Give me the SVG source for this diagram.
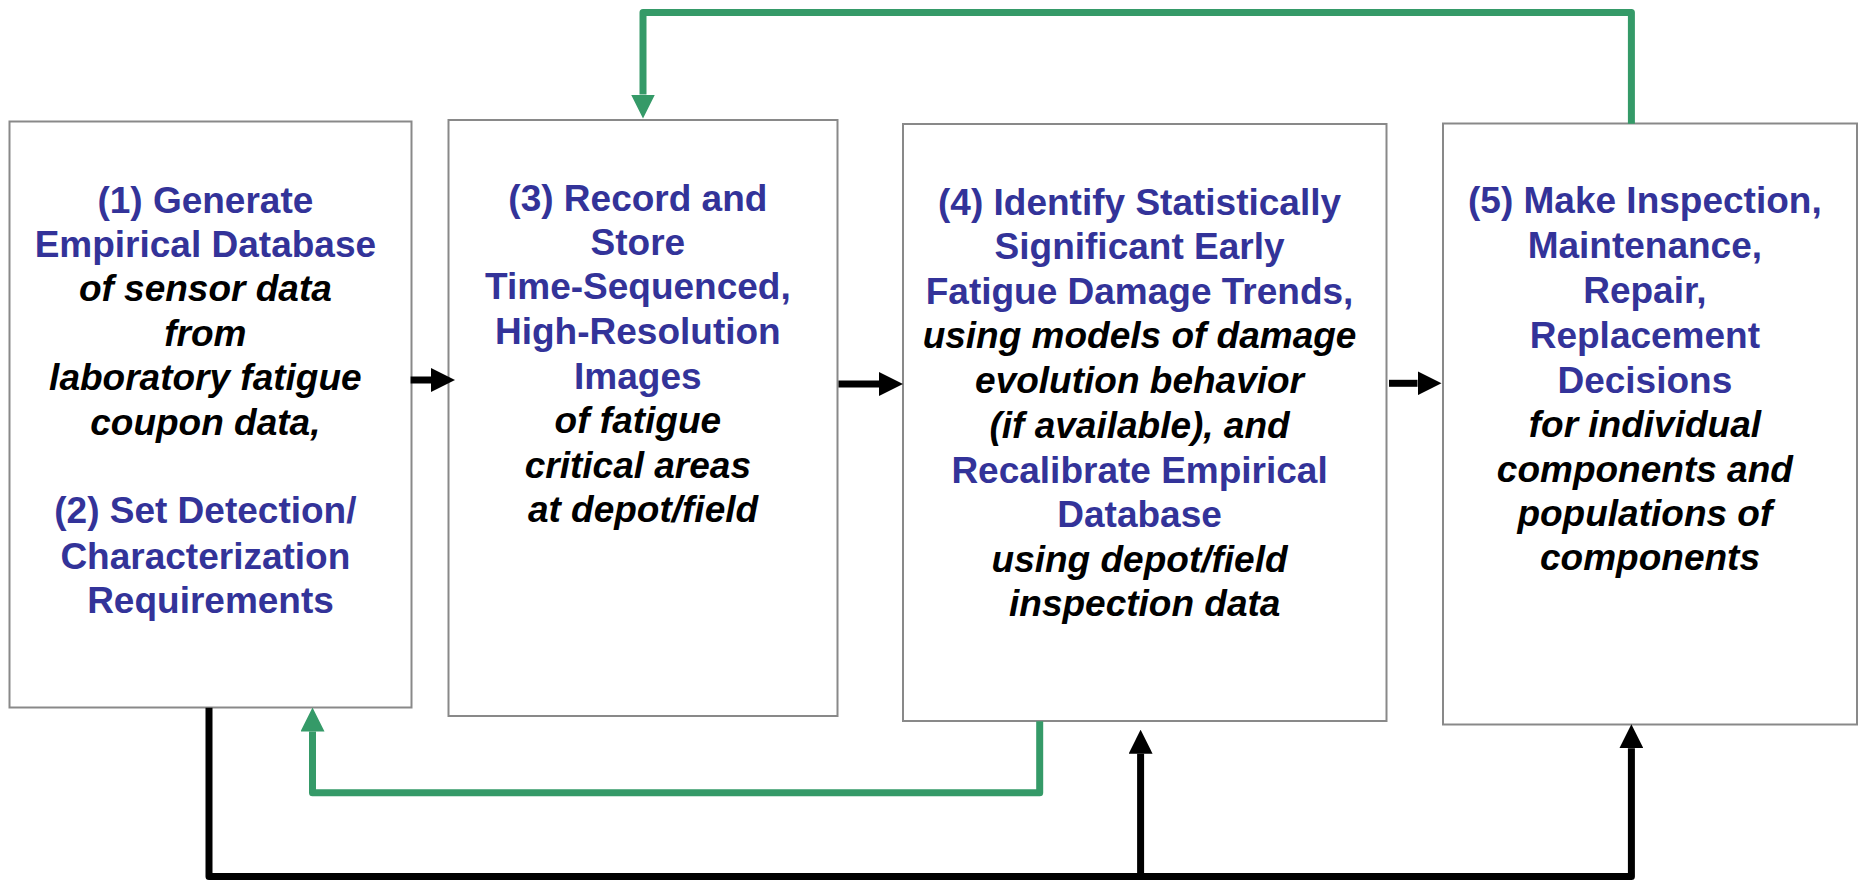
<svg xmlns="http://www.w3.org/2000/svg" width="1860" height="880" viewBox="0 0 1860 880">
<style>
  .box { fill: #ffffff; stroke: #898989; stroke-width: 2; }
  .t { font-family: "Liberation Sans", Arial, sans-serif; font-weight: bold; font-size: 37px; text-anchor: middle; }
  .b { fill: #333399; }
  .k { fill: #000000; font-style: italic; }
  .cg { fill: none; stroke: #359a68; stroke-width: 7; stroke-linejoin: round; }
  .ck { fill: none; stroke: #000000; stroke-width: 7; stroke-linejoin: round; }
</style>
<defs>
  <marker id="ahg" viewBox="0 0 24 24" markerWidth="24" markerHeight="24" refX="0" refY="12" orient="auto" markerUnits="userSpaceOnUse">
    <path d="M0,0 L24,12 L0,24 z" fill="#359a68"/>
  </marker>
  <marker id="ahk" viewBox="0 0 24 24" markerWidth="24" markerHeight="24" refX="0" refY="12" orient="auto" markerUnits="userSpaceOnUse">
    <path d="M0,0 L24,12 L0,24 z" fill="#000000"/>
  </marker>
</defs>
<rect width="1860" height="880" fill="#ffffff"/>

<g id="node1">
  <rect class="box" x="9.5" y="121.5" width="402" height="586"/>
  <text class="t" x="210.5">
    <tspan class="b" x="210.5" y="212.7">(1) Generate</tspan>
    <tspan class="b" x="210.5" y="257.3">Empirical Database</tspan>
    <tspan class="k" x="210.5" y="301">of sensor data</tspan>
    <tspan class="k" x="210.5" y="346">from</tspan>
    <tspan class="k" x="210.5" y="390">laboratory fatigue</tspan>
    <tspan class="k" x="210.5" y="435">coupon data,</tspan>
    <tspan class="b" x="210.5" y="522.7">(2) Set Detection/</tspan>
    <tspan class="b" x="210.5" y="569">Characterization</tspan>
    <tspan class="b" x="210.5" y="613.3">Requirements</tspan>
  </text>
</g>

<g id="node3">
  <rect class="box" x="448.5" y="120" width="389" height="596"/>
  <text class="t" x="643">
    <tspan class="b" x="643" y="210.7">(3) Record and</tspan>
    <tspan class="b" x="643" y="254.5">Store</tspan>
    <tspan class="b" x="643" y="299.3">Time-Sequenced,</tspan>
    <tspan class="b" x="643" y="344">High-Resolution</tspan>
    <tspan class="b" x="643" y="389">Images</tspan>
    <tspan class="k" x="643" y="433.3">of fatigue</tspan>
    <tspan class="k" x="643" y="477.5">critical areas</tspan>
    <tspan class="k" x="643" y="521.7">at depot/field</tspan>
  </text>
</g>

<g id="node4">
  <rect class="box" x="903" y="124" width="483.5" height="597"/>
  <text class="t" x="1144.7">
    <tspan class="b" x="1144.7" y="215">(4) Identify Statistically</tspan>
    <tspan class="b" x="1144.7" y="259.3">Significant Early</tspan>
    <tspan class="b" x="1144.7" y="303.5">Fatigue Damage Trends,</tspan>
    <tspan class="k" x="1144.7" y="348.3">using models of damage</tspan>
    <tspan class="k" x="1144.7" y="392.7">evolution behavior</tspan>
    <tspan class="k" x="1144.7" y="438">(if available), and</tspan>
    <tspan class="b" x="1144.7" y="482.7">Recalibrate Empirical</tspan>
    <tspan class="b" x="1144.7" y="526.7">Database</tspan>
    <tspan class="k" x="1144.7" y="571.7">using depot/field</tspan>
    <tspan class="k" x="1144.7" y="616">inspection data</tspan>
  </text>
</g>

<g id="node5">
  <rect class="box" x="1443" y="123.5" width="414" height="601"/>
  <text class="t" x="1650">
    <tspan class="b" x="1650" y="213.3">(5) Make Inspection,</tspan>
    <tspan class="b" x="1650" y="258.3">Maintenance,</tspan>
    <tspan class="b" x="1650" y="302.7">Repair,</tspan>
    <tspan class="b" x="1650" y="348.3">Replacement</tspan>
    <tspan class="b" x="1650" y="392.7">Decisions</tspan>
    <tspan class="k" x="1650" y="436.7">for individual</tspan>
    <tspan class="k" x="1650" y="481.7">components and</tspan>
    <tspan class="k" x="1650" y="526">populations of</tspan>
    <tspan class="k" x="1650" y="570">components</tspan>
  </text>
</g>

<g id="connectors">
  <!-- forward arrows -->
  <path class="ck" d="M410.6,380 L431,380" marker-end="url(#ahk)"/>
  <path class="ck" d="M838.5,384 L879,384" marker-end="url(#ahk)"/>
  <path class="ck" d="M1389,383.3 L1417.5,383.3" marker-end="url(#ahk)"/>
  <!-- green feedback top: 5 -> 3 -->
  <path class="cg" d="M1631.4,123.7 L1631.4,12.5 L643,12.5 L643,94.5" marker-end="url(#ahg)"/>
  <!-- green feedback bottom: 4 -> 1 -->
  <path class="cg" d="M1039.7,721.3 L1039.7,792.7 L312.5,792.7 L312.5,731.5" marker-end="url(#ahg)"/>
  <!-- black bottom: 1 -> 4, 5 -->
  <path class="ck" d="M209,707.7 L209,876.5 L1631.4,876.5 L1631.4,748.2" marker-end="url(#ahk)"/>
  <path class="ck" d="M1140.6,876.5 L1140.6,753.7" marker-end="url(#ahk)"/>
</g>
</svg>
